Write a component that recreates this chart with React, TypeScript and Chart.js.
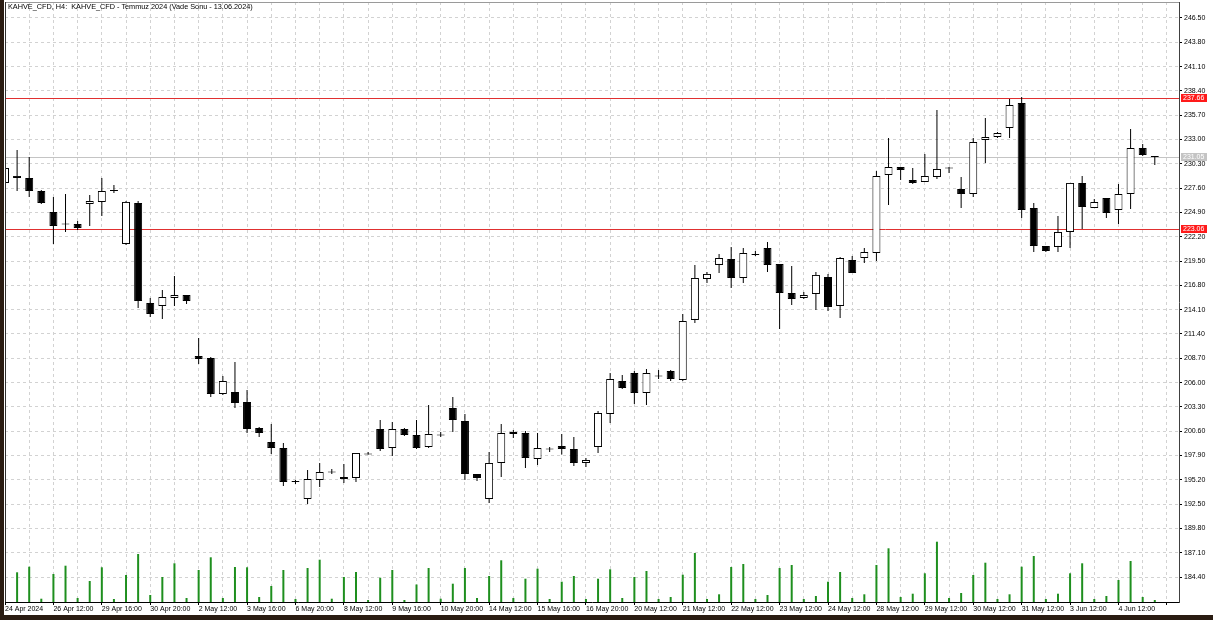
import React, { useEffect, useRef } from 'react';
import { Chart, registerables } from 'chart.js';

Chart.register(...registerables);

const titleText = 'KAHVE_CFD, H4:  KAHVE_CFD - Temmuz 2024 (Vade Sonu - 13.06.2024)';

const opens = [
  228.18, 228.73, 228.73, 227.29, 224.96, 223.55, 223.62, 225.84, 226.07, 227.29,
  221.40, 225.96, 214.84, 214.51, 215.40, 215.73, 208.96, 208.73, 204.73, 204.96,
  203.84, 200.96, 199.40, 198.73, 194.96, 193.07, 195.18, 196.01, 195.29, 195.40,
  198.02, 200.84, 198.73, 200.84, 200.18, 198.84, 200.12, 203.18, 201.73, 195.84,
  193.07, 197.07, 200.29, 200.40, 197.51, 198.57, 198.96, 198.62, 197.07, 198.84,
  202.51, 206.18, 207.07, 204.84, 206.68, 207.29, 206.29, 212.96, 217.51, 219.07,
  219.73, 217.62, 220.29, 220.96, 219.18, 215.96, 215.40, 215.84, 217.73, 214.51,
  219.62, 219.84, 220.40, 229.07, 229.96, 228.51, 228.29, 228.84, 229.79, 227.51,
  226.96, 232.96, 233.29, 234.29, 237.07, 225.40, 221.18, 221.07, 222.73, 228.18,
  225.40, 226.51, 225.18, 226.96, 232.07, 231.07,
];

const highs = [
  230.07, 231.84, 231.07, 227.40, 226.62, 226.96, 223.96, 226.84, 228.73, 227.96,
  226.18, 226.18, 215.40, 216.29, 217.84, 215.73, 210.96, 208.84, 206.73, 208.29,
  205.18, 201.07, 201.40, 199.29, 195.18, 196.29, 197.07, 196.40, 196.96, 198.18,
  198.29, 201.84, 201.62, 200.96, 201.84, 203.51, 200.51, 204.40, 202.51, 195.84,
  198.29, 201.40, 200.73, 200.62, 200.40, 198.84, 200.29, 199.96, 197.62, 202.84,
  207.07, 206.84, 207.29, 207.51, 207.40, 207.40, 213.62, 219.07, 218.29, 220.29,
  221.07, 220.96, 220.62, 221.62, 219.18, 218.96, 216.07, 218.29, 218.07, 219.96,
  220.07, 220.96, 229.51, 233.18, 229.96, 229.84, 231.40, 236.29, 229.96, 228.84,
  233.18, 235.40, 233.84, 237.51, 237.73, 225.96, 221.18, 224.51, 228.18, 228.96,
  226.40, 226.51, 228.07, 234.18, 232.51, 231.07,
];

const lows = [
  227.84, 227.29, 226.62, 225.84, 221.40, 222.73, 222.96, 223.40, 224.51, 227.07,
  221.29, 214.29, 213.29, 213.07, 214.51, 214.73, 208.07, 204.40, 204.62, 203.18,
  200.40, 199.96, 198.07, 194.51, 194.73, 192.51, 194.40, 195.84, 194.84, 194.96,
  198.00, 198.40, 197.84, 200.07, 198.62, 198.73, 199.96, 200.51, 195.18, 195.07,
  192.62, 195.51, 199.84, 196.51, 196.84, 198.29, 198.00, 196.73, 196.62, 198.18,
  201.51, 205.29, 203.62, 203.51, 206.40, 206.18, 206.18, 212.62, 217.07, 218.18,
  216.51, 217.07, 220.07, 218.29, 211.96, 214.62, 215.29, 214.07, 213.96, 213.18,
  218.18, 219.29, 219.51, 225.73, 228.51, 228.07, 228.29, 228.62, 229.29, 225.40,
  226.62, 230.40, 233.18, 233.18, 224.29, 220.51, 220.51, 220.51, 220.96, 223.07,
  225.40, 224.29, 223.62, 225.29, 231.18, 230.18,
];

const closes = [
  229.84, 228.96, 227.29, 225.96, 223.40, 223.62, 223.18, 226.18, 227.29, 227.40,
  226.07, 215.07, 213.62, 215.51, 215.73, 215.07, 208.62, 204.73, 206.18, 203.73,
  200.84, 200.40, 198.73, 194.96, 195.01, 195.29, 196.07, 196.07, 195.51, 198.18,
  198.07, 198.62, 200.84, 200.18, 198.73, 200.29, 200.18, 201.84, 195.84, 195.40,
  197.07, 200.40, 200.51, 197.62, 198.73, 198.62, 198.62, 197.07, 197.40, 202.62,
  206.40, 205.40, 204.84, 207.07, 206.73, 206.40, 212.84, 217.62, 218.07, 219.84,
  217.62, 220.40, 220.18, 219.07, 215.96, 215.29, 215.73, 217.96, 214.40, 219.84,
  218.18, 220.51, 228.96, 229.96, 229.62, 228.18, 228.96, 229.73, 229.84, 226.96,
  232.73, 233.29, 233.73, 236.84, 225.18, 221.18, 220.62, 222.73, 228.18, 225.51,
  226.07, 224.84, 226.96, 232.07, 231.29, 231.05,
];

const volumes = [
  150, 1485, 1765, 165, 1400, 1815, 200, 1050, 1735, 150,
  1350, 2400, 350, 1250, 1935, 200, 1600, 2235, 200, 1750,
  1735, 250, 800, 1600, 150, 1700, 2115, 165, 1250, 1500,
  100, 1215, 1600, 100, 875, 1700, 165, 915, 1700, 200,
  1300, 2085, 200, 1165, 1665, 150, 1015, 1300, 150, 1165,
  1635, 200, 1250, 1550, 150, 250, 1365, 2450, 150, 385,
  1750, 1900, 150, 350, 1700, 1850, 150, 300, 1015, 1500,
  200, 385, 1850, 2685, 250, 415, 1435, 3015, 200, 450,
  1350, 1965, 150, 385, 1765, 2300, 150, 415, 1435, 1935,
  150, 300, 1100, 2050, 250, 100,
];

const xTickLabels = [
  '24 Apr 2024', '26 Apr 12:00', '29 Apr 16:00', '30 Apr 20:00', '2 May 12:00', '3 May 16:00',
  '6 May 20:00', '8 May 12:00', '9 May 16:00', '10 May 20:00', '14 May 12:00', '15 May 16:00',
  '16 May 20:00', '20 May 12:00', '21 May 12:00', '22 May 12:00', '23 May 12:00', '24 May 12:00',
  '28 May 12:00', '29 May 12:00', '30 May 12:00', '31 May 12:00', '3 Jun 12:00', '4 Jun 12:00',
];

const yTickValues = [
  184.4, 187.1, 189.8, 192.5, 195.2, 197.9, 200.6, 203.3, 206.0, 208.7, 211.4, 214.1,
  216.8, 219.5, 222.2, 224.9, 227.6, 230.3, 233.0, 235.7, 238.4, 241.1, 243.8, 246.5,
];

const redLevels = [237.66, 223.06];
const bidPrice = 231.05;

const FONT_FAMILY = '"Liberation Sans", Arial, sans-serif';

const levelLinesPlugin = {
  id: 'levelLines',
  beforeDatasetsDraw(chart: any) {
    const { ctx, chartArea, scales } = chart;
    const ys = scales.y;
    const lines = [
      { v: bidPrice, color: '#c4c4c4' },
      ...redLevels.map((v) => ({ v, color: '#e03030' })),
    ];
    ctx.save();
    ctx.lineWidth = 1;
    for (const l of lines) {
      const py = Math.round(ys.getPixelForValue(l.v)) + 0.5;
      ctx.strokeStyle = l.color;
      ctx.beginPath();
      ctx.moveTo(chartArea.left, py);
      ctx.lineTo(chartArea.right, py);
      ctx.stroke();
    }
    ctx.restore();
  },
};

const priceTagPlugin = {
  id: 'priceTags',
  afterDraw(chart: any) {
    const { ctx, chartArea, scales } = chart;
    const ys = scales.y;
    const tags = [
      ...redLevels.map((v) => ({ v, bg: '#ff1a1a', fg: '#ffffff' })),
      { v: bidPrice, bg: '#c4c4c4', fg: '#ffffff' },
    ];
    ctx.save();
    ctx.font = `7px ${FONT_FAMILY}`;
    ctx.textBaseline = 'middle';
    ctx.textAlign = 'left';
    for (const t of tags) {
      const py = Math.round(ys.getPixelForValue(t.v));
      ctx.fillStyle = t.bg;
      ctx.fillRect(chartArea.right + 2, py - 4, 26, 8);
      ctx.fillStyle = t.fg;
      ctx.fillText(t.v.toFixed(2), chartArea.right + 4, py + 0.5);
    }
    ctx.restore();
  },
};

const framePlugin = {
  id: 'frame',
  afterDatasetsDraw(chart: any) {
    const { ctx, chartArea } = chart;
    ctx.save();
    ctx.lineWidth = 1;
    ctx.strokeStyle = '#9a9a9a';
    ctx.beginPath();
    ctx.moveTo(chartArea.left, chartArea.top + 0.5);
    ctx.lineTo(chartArea.right, chartArea.top + 0.5);
    ctx.stroke();
    ctx.strokeStyle = '#303030';
    ctx.beginPath();
    ctx.moveTo(chartArea.left + 0.5, chartArea.top);
    ctx.lineTo(chartArea.left + 0.5, chartArea.bottom);
    ctx.stroke();
    ctx.restore();
  },
};

export default function App() {
  const ref = useRef<HTMLCanvasElement>(null);

  useEffect(() => {
    const idx = opens.map((_, i) => i);
    const bodyData = idx.map((k) => ({
      x: k,
      y: [Math.min(opens[k], closes[k]), Math.max(opens[k], closes[k])],
    }));
    const bodyColors = idx.map((k) => (closes[k] >= opens[k] ? '#ffffff' : '#000000'));
    const wickData = idx.map((k) => ({ x: k, y: [lows[k], highs[k]] }));
    const volData = idx.map((k) => ({ x: k, y: volumes[k] }));
    const xGridValues = Array.from({ length: 49 }, (_, i) => i * 2);

    const chart = new Chart(ref.current!, {
      type: 'bar',
      data: {
        datasets: [
          {
            type: 'bar',
            label: 'body',
            data: bodyData as any,
            backgroundColor: bodyColors,
            borderColor: '#000000',
            borderWidth: 1,
            borderSkipped: false,
            barThickness: 8,
            minBarLength: 1,
            grouped: false,
            inflateAmount: 0,
            xAxisID: 'x',
            yAxisID: 'y',
            order: 0,
          },
          {
            type: 'bar',
            label: 'wick',
            data: wickData as any,
            backgroundColor: '#000000',
            borderWidth: 0,
            barThickness: 1,
            minBarLength: 1,
            grouped: false,
            inflateAmount: 0,
            xAxisID: 'x',
            yAxisID: 'y',
            order: 1,
          },
          {
            type: 'bar',
            label: 'volume',
            data: volData as any,
            backgroundColor: '#1e8f1e',
            borderWidth: 0,
            barThickness: 2,
            grouped: false,
            inflateAmount: 0,
            xAxisID: 'x',
            yAxisID: 'yv',
            order: 2,
          },
        ] as any,
      },
      options: {
        animation: false,
        responsive: false,
        devicePixelRatio: 1,
        events: [],
        layout: { padding: { left: 1, top: 2, right: 0, bottom: 0 } },
        plugins: {
          legend: { display: false },
          tooltip: { enabled: false },
          title: { display: false },
        },
        scales: {
          x: {
            type: 'linear',
            min: 0,
            max: 97,
            offset: false,
            afterBuildTicks: (s: any) => {
              s.ticks = xGridValues.map((v) => ({ value: v }));
            },
            afterFit: (s: any) => {
              s.height = 13;
              s.paddingLeft = 0;
              s.paddingRight = 0;
            },
            ticks: {
              autoSkip: false,
              maxRotation: 0,
              minRotation: 0,
              align: 'start',
              padding: 0,
              color: '#000000',
              font: { family: FONT_FAMILY, size: 7 },
              callback: (v: any) => {
                const n = Number(v);
                return n % 4 === 0 ? xTickLabels[n / 4] ?? '' : '';
              },
            },
            grid: {
              color: '#d2d2d2',
              lineWidth: 1,
              offset: false,
              tickLength: 3,
              tickColor: (c: any) => (c.index % 2 === 0 ? '#000000' : 'rgba(0,0,0,0)'),
            },
            border: { color: '#000000', width: 1, dash: [3, 3] },
          },
          y: {
            type: 'linear',
            position: 'right',
            min: 181.623,
            max: 248.277,
            afterBuildTicks: (s: any) => {
              s.ticks = yTickValues.map((v) => ({ value: v }));
            },
            afterFit: (s: any) => {
              s.width = 34;
              s.paddingTop = 0;
              s.paddingBottom = 0;
            },
            ticks: {
              padding: 2,
              color: '#000000',
              font: { family: FONT_FAMILY, size: 7 },
              callback: (v: any) => Number(v).toFixed(2),
            },
            grid: { color: '#d2d2d2', lineWidth: 1, tickLength: 3, tickColor: '#000000' },
            border: { color: '#404040', width: 1, dash: [3, 3] },
          },
          yv: {
            type: 'linear',
            display: false,
            min: 0,
            max: 30000,
          },
        },
      } as any,
      plugins: [levelLinesPlugin, priceTagPlugin, framePlugin],
    });
    return () => chart.destroy();
  }, []);

  return (
    <div
      style={{
        position: 'fixed',
        left: 0,
        top: 0,
        width: 1213,
        height: 620,
        background: '#2a1c12',
        overflow: 'hidden',
      }}
    >
      <canvas
        ref={ref}
        width={1209}
        height={615}
        style={{ position: 'absolute', left: 4, top: 0, width: 1209, height: 615, background: '#ffffff' }}
      />
      <div
        style={{
          position: 'absolute',
          left: 8,
          top: 2,
          font: `7.3px ${FONT_FAMILY}`,
          lineHeight: '9px',
          color: '#000000',
          whiteSpace: 'pre',
        }}
      >
        {titleText}
      </div>
    </div>
  );
}
